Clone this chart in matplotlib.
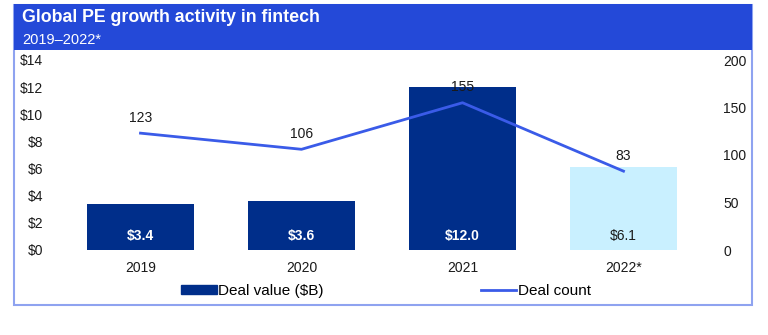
import matplotlib.pyplot as plt
from matplotlib.patches import Rectangle
from matplotlib.lines import Line2D

plt.rcParams['font.family'] = ['Liberation Sans', 'DejaVu Sans']

years = ['2019', '2020', '2021', '2022*']
deal_value = [3.4, 3.6, 12.0, 6.1]
deal_count = [123, 106, 155, 83]
value_labels = ['$3.4', '$3.6', '$12.0', '$6.1']

bar_colors = ['#002E8A', '#002E8A', '#002E8A', '#C9F0FF']
label_colors = ['white', 'white', 'white', '#1A1A1A']
line_color = '#3A5BE8'
band_color = '#2449D8'

fig = plt.figure(figsize=(7.68, 3.35), dpi=100)

# outer frame and title band
fig.patches.append(Rectangle((14 / 768, 1 - 305 / 335), 738 / 768, 300 / 335,
                             transform=fig.transFigure, fill=False,
                             edgecolor='#8FA3F0', linewidth=1.5))
fig.patches.append(Rectangle((14 / 768, 1 - 50 / 335), 738 / 768, 46 / 335,
                             transform=fig.transFigure, facecolor=band_color,
                             edgecolor='none'))
fig.text(22 / 768, 1 - 17 / 335, 'Global PE growth activity in fintech', color='white',
         fontsize=12.8, fontweight='bold', va='center', ha='left')
fig.text(22 / 768, 1 - 40 / 335, '2019\u20132022*', color='white',
         fontsize=10.5, va='center', ha='left')

ax = fig.add_axes([60 / 768, 1 - 250 / 335, 644 / 768, 190 / 335])
ax2 = ax.twinx()

x = range(len(years))
ax.bar(x, deal_value, width=0.66, color=bar_colors, zorder=1)
for i, v in enumerate(deal_value):
    ax.text(i, 1.0, value_labels[i], ha='center', va='center', color=label_colors[i],
            fontsize=10, fontweight='bold' if i < 3 else 'normal')

ax.set_xlim(-0.5, 3.5)
ax.set_ylim(0, 14)
ax.set_yticks(range(0, 15, 2))
ax.set_yticklabels([f'${t}' for t in range(0, 15, 2)])
ax.set_xticks(list(x))
ax.set_xticklabels(years)

ax2.plot(list(x), deal_count, color=line_color, linewidth=2, zorder=3)
for i, c in enumerate(deal_count):
    ax2.text(i, c + 9, str(c), ha='center', va='bottom', fontsize=10, color='#1A1A1A')
ax2.set_ylim(0, 200)
ax2.set_yticks(range(0, 201, 50))

for a in (ax, ax2):
    for s in a.spines.values():
        s.set_visible(False)
    a.tick_params(length=0, labelsize=10, colors='#1A1A1A')
ax.tick_params(axis='y', pad=12)
ax2.tick_params(axis='y', pad=14)
ax.tick_params(axis='x', pad=8)

handles = [Rectangle((0, 0), 1, 1, color='#002E8A'),
           Line2D([0], [0], color=line_color, linewidth=2)]
fig.legend(handles, ['Deal value ($B)', 'Deal count'], loc='center',
           bbox_to_anchor=(386 / 768, 1 - 291 / 335), ncol=2, frameon=False,
           fontsize=11, handlelength=2.3, handleheight=0.5, handletextpad=0.1,
           columnspacing=10.3)

fig.savefig('out.png', dpi=100)
